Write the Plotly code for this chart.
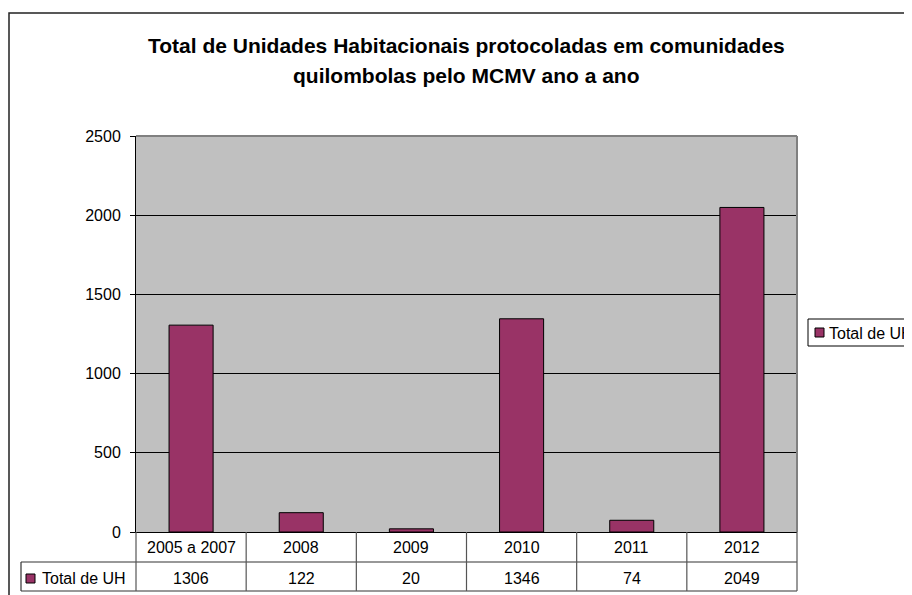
import plotly.graph_objects as go

# ---- data ----
categories = ["2005 a 2007", "2008", "2009", "2010", "2011", "2012"]
values = [1306, 122, 20, 1346, 74, 2049]
series_name = "Total de UH"
y_ticks = [0, 500, 1000, 1500, 2000, 2500]
title_line1 = "Total de Unidades Habitacionais protocoladas em comunidades"
title_line2 = "quilombolas pelo MCMV ano a ano"

# ---- layout geometry (target page pixels; page body has an 8px margin) ----
OFF = 8
W, H = 912 - OFF, 595 - OFF
L, R, T, B = 136 - OFF, 797 - OFF, 136 - OFF, 532 - OFF
FONT = "Liberation Sans, Arial, sans-serif"
BAR = "#993366"


def px(x):
    """target page x -> paper coordinate"""
    return (x - OFF - L) / (R - L)


def py(y):
    """target page y -> paper coordinate"""
    return (B - (y - OFF)) / (B - T)


fig = go.Figure()
fig.add_trace(go.Bar(
    x=categories, y=values, name=series_name,
    marker=dict(color=BAR, line=dict(color="black", width=1)),
    showlegend=False,
))

shapes = []
annotations = []

# plot area grey border (top & right)
shapes.append(dict(type="line", xref="paper", yref="paper", x0=0, x1=1, y0=1, y1=1,
                   line=dict(color="#808080", width=2)))
shapes.append(dict(type="line", xref="paper", yref="paper", x0=1, x1=1, y0=0, y1=1,
                   line=dict(color="#808080", width=2)))

# outer chart frame
shapes.append(dict(type="rect", xref="paper", yref="paper",
                   x0=px(9), x1=px(940), y0=py(13), y1=py(640),
                   line=dict(color="#222222", width=1.5)))

# data table lines
n = len(categories)
tbl_left = px(21)
shapes.append(dict(type="line", xref="paper", yref="paper", x0=tbl_left, x1=1,
                   y0=py(562), y1=py(562), line=dict(color="#333333", width=1.2)))
shapes.append(dict(type="line", xref="paper", yref="paper", x0=tbl_left, x1=1,
                   y0=py(591), y1=py(591), line=dict(color="#333333", width=1.2)))
shapes.append(dict(type="line", xref="paper", yref="paper", x0=tbl_left, x1=tbl_left,
                   y0=py(562), y1=py(591), line=dict(color="#333333", width=1.2)))
for k in range(n + 1):
    xb = k / n
    shapes.append(dict(type="line", xref="paper", yref="paper", x0=xb, x1=xb,
                       y0=0, y1=py(591), line=dict(color="#555555", width=1.2)))

# table text
for i, (cat, v) in enumerate(zip(categories, values)):
    xc = (i + 0.5) / n
    annotations.append(dict(x=xc, xref="paper", y=py(547), yref="paper", text=cat,
                            showarrow=False, xanchor="center", yanchor="middle",
                            font=dict(family=FONT, size=16, color="black")))
    annotations.append(dict(x=xc, xref="paper", y=py(578), yref="paper", text=str(v),
                            showarrow=False, xanchor="center", yanchor="middle",
                            font=dict(family=FONT, size=16, color="black")))

# table row key
shapes.append(dict(type="rect", xref="paper", yref="paper",
                   x0=px(26), x1=px(35), y0=py(574), y1=py(583),
                   fillcolor=BAR, line=dict(color="black", width=1)))
annotations.append(dict(x=px(40), xref="paper", y=py(578), yref="paper", text=series_name,
                        showarrow=False, xanchor="left", yanchor="middle",
                        font=dict(family=FONT, size=16, color="black")))

# legend (manual, runs off the right edge like the reference)
shapes.append(dict(type="rect", xref="paper", yref="paper",
                   x0=px(808), x1=px(960), y0=py(319), y1=py(346),
                   line=dict(color="black", width=1), fillcolor="white"))
shapes.append(dict(type="rect", xref="paper", yref="paper",
                   x0=px(815), x1=px(824), y0=py(328), y1=py(337),
                   fillcolor=BAR, line=dict(color="black", width=1)))
annotations.append(dict(x=px(827), xref="paper", y=py(333), yref="paper", text=series_name,
                        showarrow=False, xanchor="left", yanchor="middle",
                        font=dict(family=FONT, size=16, color="black")))

# title
annotations.append(dict(x=0.5, xref="paper", y=py(46), yref="paper", text="<b>" + title_line1 + "</b>",
                        showarrow=False, xanchor="center", yanchor="middle",
                        font=dict(family=FONT, size=21, color="black")))
annotations.append(dict(x=0.5, xref="paper", y=py(75), yref="paper", text="<b>" + title_line2 + "</b>",
                        showarrow=False, xanchor="center", yanchor="middle",
                        font=dict(family=FONT, size=21, color="black")))

fig.update_layout(
    width=W, height=H,
    margin=dict(l=L, r=W - R, t=T, b=H - B, pad=0),
    paper_bgcolor="white",
    plot_bgcolor="#C0C0C0",
    bargap=0.6,
    shapes=shapes,
    annotations=annotations,
    xaxis=dict(type="category", range=[-0.5, n - 0.5], showticklabels=False, ticks="",
               showgrid=False, showline=True, linecolor="black", linewidth=1,
               zeroline=False, fixedrange=True),
    yaxis=dict(range=[0, 2500], tickvals=y_ticks, ticks="outside", ticklen=5,
               tickcolor="black", showline=True, linecolor="black", linewidth=1,
               showgrid=True, gridcolor="black", gridwidth=1, zeroline=False,
               tickfont=dict(family=FONT, size=16, color="black"),
               ticklabelstandoff=6, fixedrange=True),
    showlegend=False,
)

fig.write_html("out.html")
